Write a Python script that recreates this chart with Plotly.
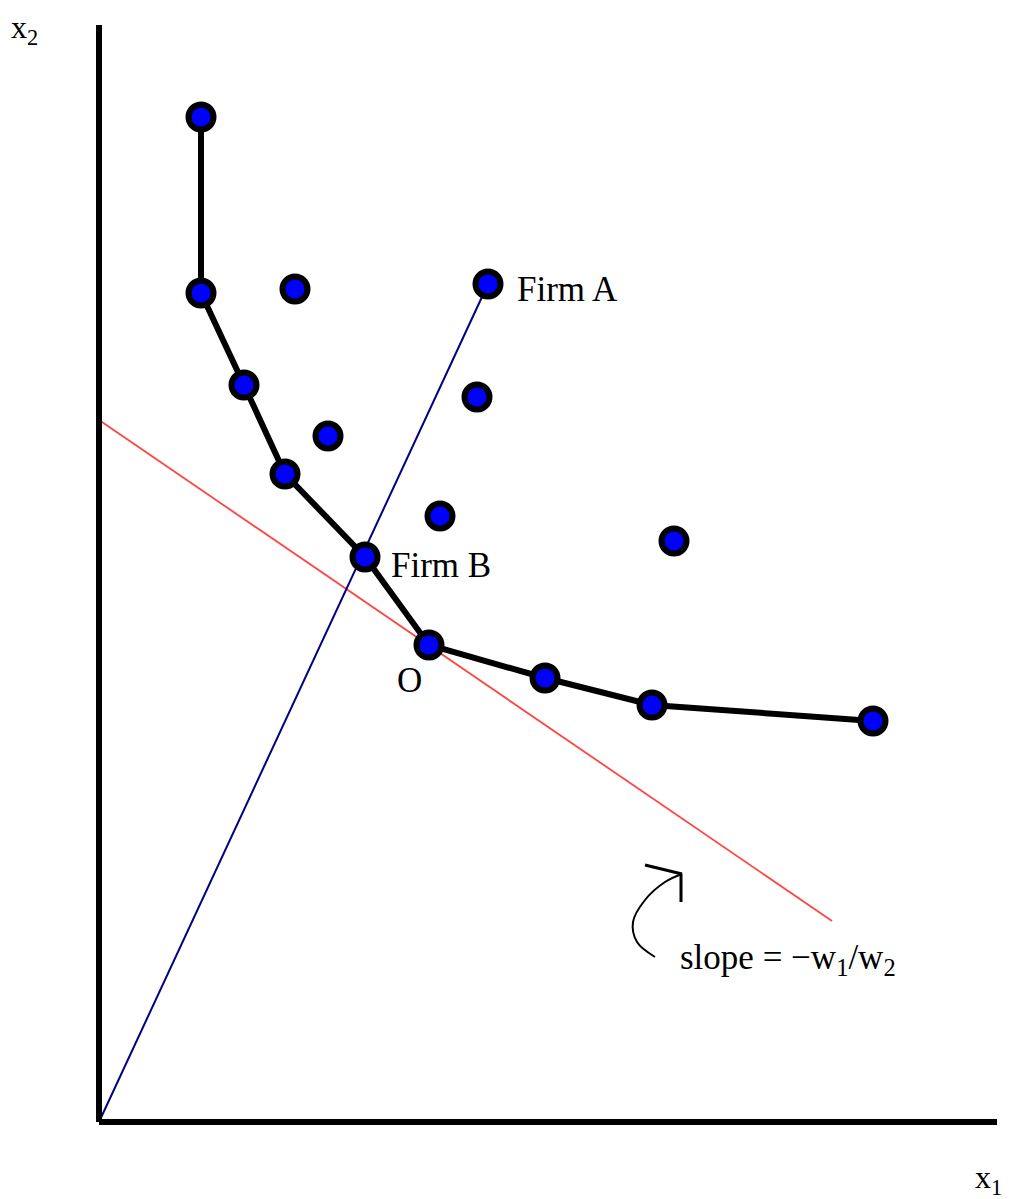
import plotly.graph_objects as go

# firms' input bundles (x1, x2), measured from the origin of the axes
firm_x1 = [102, 102, 196, 145, 389, 378, 229, 186, 341, 575, 266, 330, 446, 553, 774]
firm_x2 = [1005, 829, 833, 737, 838, 725, 686, 648, 606, 581, 565, 477, 444, 417, 401]

# efficient frontier (isoquant) through the best-practice firms
front_x1 = [102, 102, 145, 186, 266, 330, 446, 553, 774]
front_x2 = [1005, 829, 737, 648, 565, 477, 444, 417, 401]

# ray from origin through Firm A
ray_x1 = [0, 389]
ray_x2 = [0, 838]

# isocost line
cost_x1 = [0, 733]
cost_x2 = [702, 201]

# hand-drawn arrow pointing to the isocost line
arrow_x1 = [556, 538, 534, 546, 566, 583]
arrow_x2 = [165, 180, 200, 222, 240, 248]
head_x1 = [546, 583, 582, 582]
head_x2 = [257, 248, 248, 220]

serif = "Liberation Serif, Times New Roman, serif"

fig = go.Figure()

fig.add_trace(go.Scatter(x=cost_x1, y=cost_x2, mode="lines",
                         line=dict(color="#ff4545", width=1.8), hoverinfo="skip"))
fig.add_trace(go.Scatter(x=ray_x1, y=ray_x2, mode="lines",
                         line=dict(color="#000080", width=2), hoverinfo="skip"))
fig.add_trace(go.Scatter(x=front_x1, y=front_x2, mode="lines",
                         line=dict(color="black", width=6), hoverinfo="skip"))
fig.add_trace(go.Scatter(x=firm_x1, y=firm_x2, mode="markers",
                         marker=dict(size=25, color="#0000ff",
                                     line=dict(color="black", width=6))))
fig.add_trace(go.Scatter(x=arrow_x1, y=arrow_x2, mode="lines",
                         line=dict(color="black", width=2, shape="spline"), hoverinfo="skip"))
fig.add_trace(go.Scatter(x=head_x1, y=head_x2, mode="lines",
                         line=dict(color="black", width=3), hoverinfo="skip"))

labels = [
    (416, 833, "Firm A", "left"),
    (290, 557, "Firm B", "left"),
    (310, 442, "O", "center"),
    (579, 163, "slope = \u2212w<sub>1</sub>/w<sub>2</sub>", "left"),
]
for lx, ly, txt, anc in labels:
    fig.add_annotation(x=lx, y=ly, text=txt, showarrow=False, xanchor=anc,
                       font=dict(family=serif, size=35, color="black"))

fig.add_annotation(x=-89, y=1114, text="x<sub>2</sub>", showarrow=False, xanchor="left",
                   yanchor="top", borderpad=0, font=dict(family=serif, size=32, color="black"))
fig.add_annotation(x=904, y=-57, text="x<sub>1</sub>", showarrow=False, xanchor="right",
                   borderpad=0, font=dict(family=serif, size=32, color="black"))

# page body has an 8px margin, so the figure is 8px smaller on each axis
fig.update_layout(
    width=1005, height=1191,
    margin=dict(l=0, r=0, t=0, b=0),
    plot_bgcolor="white", paper_bgcolor="white",
    showlegend=False,
    xaxis=dict(range=[-91, 914], showgrid=False, zeroline=False, showticklabels=False,
               showline=False),
    yaxis=dict(range=[-77, 1114], showgrid=False, zeroline=False, showticklabels=False,
               showline=False),
)

# the two axes drawn as thick lines
fig.add_shape(type="line", x0=0, y0=0, x1=0, y1=1097, line=dict(color="black", width=6))
fig.add_shape(type="line", x0=0, y0=0, x1=898, y1=0, line=dict(color="black", width=6))

fig.write_html("out.html")
